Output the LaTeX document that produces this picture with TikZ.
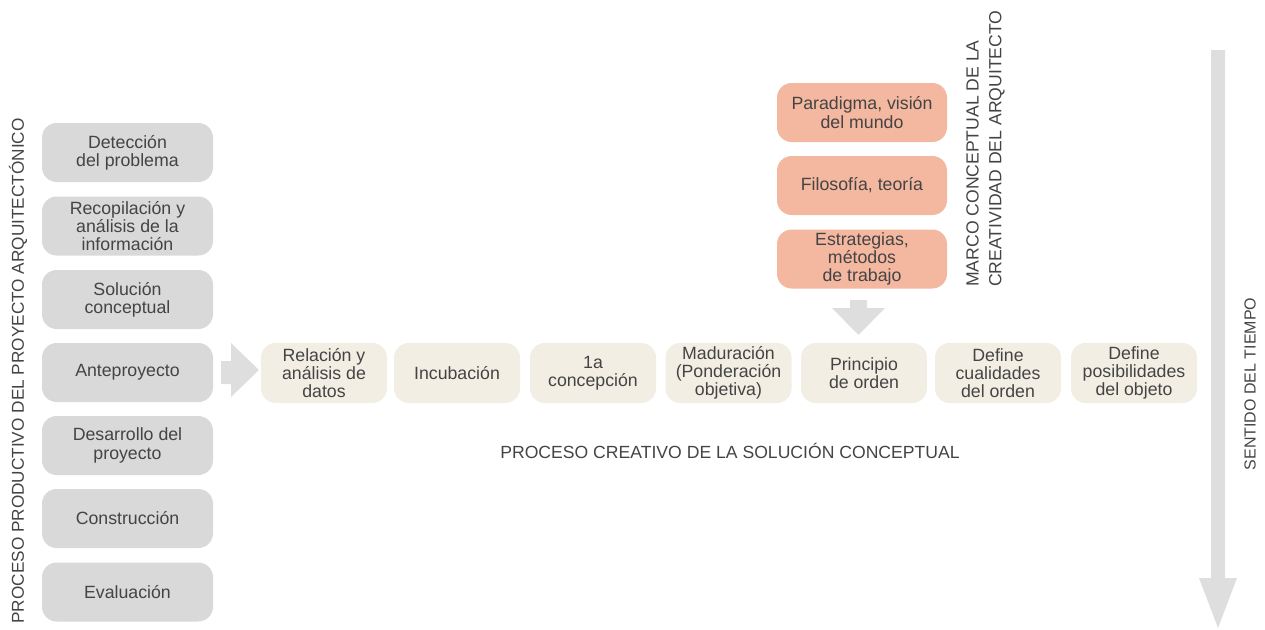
\documentclass[tikz,border=0pt]{standalone}
\usepackage{fontspec}
\setmainfont{Liberation Sans}
\definecolor{txt}{HTML}{444444}
\definecolor{boxgray}{HTML}{D9D9D9}
\definecolor{cream}{HTML}{F2EEE3}
\definecolor{salmon}{HTML}{F4B7A0}
\definecolor{arrgray}{HTML}{DEDEDE}
\tikzset{
  base/.style={rounded corners=11pt, inner sep=0pt, align=center, text=txt,
    font=\fontsize{13.3}{13.7}\selectfont},
  graybox/.style={base, fill=boxgray, minimum width=128.25pt, minimum height=44.25pt},
  creambox/.style={base, fill=cream, minimum width=94.5pt, minimum height=45pt},
  salmonbox/.style={base, fill=salmon, minimum width=127.5pt, minimum height=44.25pt},
  label/.style={text=txt, inner sep=0pt, font=\fontsize{13.2}{13.9}\selectfont},
  bigarrow/.style={fill=arrgray, draw=none}
}
\begin{document}
\begin{tikzpicture}[x=0.75pt,y=-0.75pt]
\useasboundingbox (0,0) rectangle (1265,629);
% left column
\node[graybox] (g1) at (127.5,152.5) {Detección\\del problema};
\node[graybox] (g2) at (127.5,226) {Recopilación y\\análisis de la\\información};
\node[graybox] (g3) at (127.5,299.5) {Solución\\conceptual};
\node[graybox] (g4) at (127.5,372.5) {Anteproyecto};
\node[graybox] (g5) at (127.5,445.5) {Desarrollo del\\proyecto};
\node[graybox] (g6) at (127.5,518.5) {Construcción};
\node[graybox] (g7) at (127.5,592) {Evaluación};
\node[label, rotate=90, font=\fontsize{12.9}{13.9}\selectfont] (lefttitle) at (18,371) {PROCESO PRODUCTIVO DEL PROYECTO ARQUITECTÓNICO};
% right block arrow
\fill[bigarrow] (221,361) -- (231,361) -- (231,343) -- (259,370) -- (231,397) -- (231,384) -- (221,384) -- cycle;
% cream row
\node[creambox] (c1) at (324,373) {Relación y\\análisis de\\datos};
\node[creambox] (c2) at (457,373) {Incubación};
\node[creambox] (c3) at (593,373) {1a\\concepción};
\node[creambox] (c4) at (728.5,373) {Maduración\\(Ponderación\\objetiva)};
\node[creambox] (c5) at (864,373) {Principio\\de orden};
\node[creambox] (c6) at (998,373) {Define\\cualidades\\del orden};
\node[creambox] (c7) at (1134,373) {Define\\posibilidades\\del objeto};
\node[label] (creative) at (730,451) {PROCESO CREATIVO DE LA SOLUCIÓN CONCEPTUAL};
% salmon column
\node[salmonbox] (s1) at (862,112.5) {Paradigma, visión\\del mundo};
\node[salmonbox] (s2) at (862,185.5) {Filosofía, teoría};
\node[salmonbox] (s3) at (862,259) {Estrategias,\\métodos\\de trabajo};
\fill[bigarrow] (850,300) -- (867,300) -- (867,308) -- (885,308) -- (858.5,335) -- (832,308) -- (850,308) -- cycle;
\node[label, rotate=90, align=left, anchor=west, font=\fontsize{13.2}{17}\selectfont] (marco) at (985.5,287) {MARCO CONCEPTUAL DE LA\\CREATIVIDAD DEL ARQUITECTO};
% time arrow
\fill[bigarrow] (1211,50) -- (1225,50) -- (1225,578) -- (1237,578) -- (1218,628) -- (1199,578) -- (1211,578) -- cycle;
\node[label, rotate=90, font=\fontsize{12}{13.9}\selectfont] (time) at (1250,384) {SENTIDO DEL TIEMPO};
\end{tikzpicture}
\end{document}
